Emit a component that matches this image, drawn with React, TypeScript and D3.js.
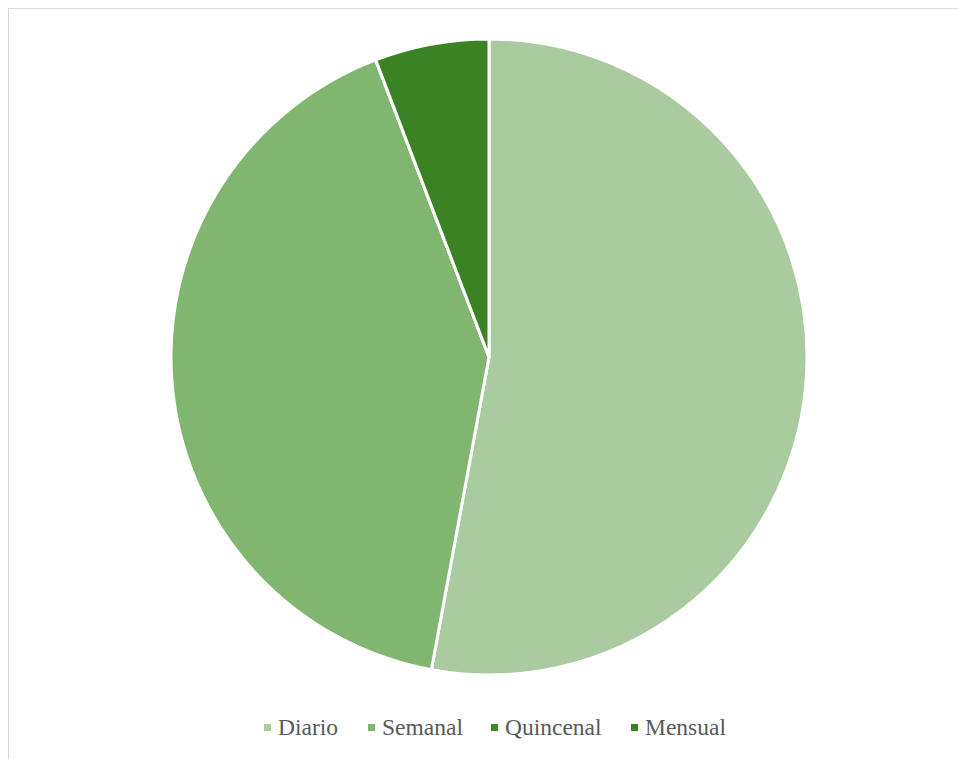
import React from "react";
import * as d3 from "d3";

const categories = ["Diario", "Semanal", "Quincenal", "Mensual"];
const values = [52.9, 41.3, 0, 5.8];
const colors = ["#a9cb9f", "#80b670", "#3e8a25", "#3a8224"];

export default function App() {
  const W = 958, H = 759;
  const cx = 489, cy = 357, r = 318;
  const pie = d3.pie<number>().sort(null).value((d) => d);
  const arcs = pie(values);
  const arc = d3.arc<d3.PieArcDatum<number>>().innerRadius(0).outerRadius(r);
  const legendX = [264, 368, 491, 631];
  return (
    <svg width={W} height={H} style={{ position: "absolute", left: 0, top: 0 }}>
      <rect x={0} y={0} width={W} height={H} fill="#fff" />
      <rect x={8.5} y={8.5} width={W + 20} height={H + 20} fill="none" stroke="#d9d9d9" strokeWidth={1} />
      <g transform={`translate(${cx},${cy})`}>
        {arcs.map((a, i) => (
          <path key={i} d={arc(a) || ""} fill={colors[i]} stroke="#fff" strokeWidth={3} strokeLinejoin="round" />
        ))}
      </g>
      {categories.map((c, i) => (
        <g key={c}>
          <rect x={legendX[i]} y={724} width={7} height={7} fill={colors[i]} />
          <text x={legendX[i] + 14} y={735} fontFamily="'Times New Roman', 'Liberation Serif', Times, serif" fontSize={23.5} fill="#595959">{c}</text>
        </g>
      ))}
    </svg>
  );
}
